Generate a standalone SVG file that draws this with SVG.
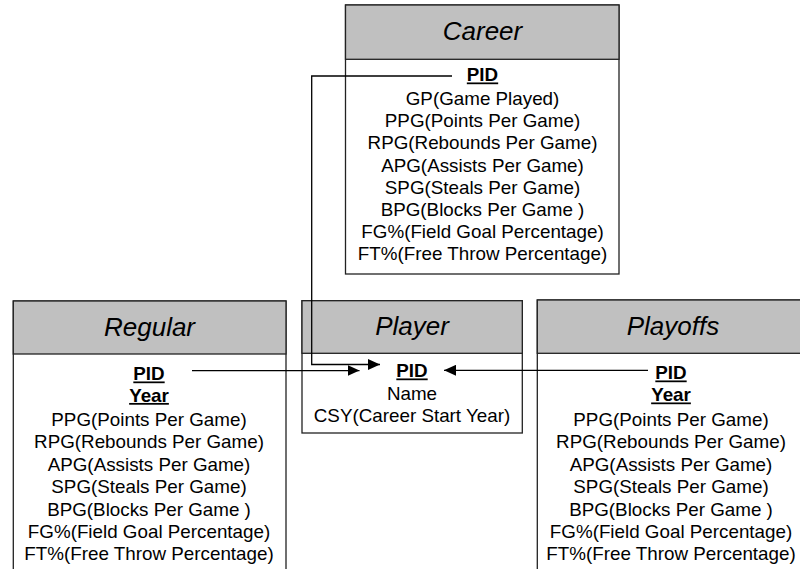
<svg xmlns="http://www.w3.org/2000/svg" width="800" height="569" viewBox="0 0 800 569">
<style>
.box{fill:#fff;stroke:#222;stroke-width:1.3}
.hdr{fill:#c0c0c0;stroke:#222;stroke-width:1.3}
.ttl{font-family:"Liberation Sans",Arial,sans-serif;font-size:26px;font-style:italic;text-anchor:middle;fill:#000}
.t{font-family:"Liberation Sans",Arial,sans-serif;font-size:17.5px;text-anchor:middle;fill:#000}
.k{font-weight:bold;text-decoration:underline}
.c{fill:none;stroke:#000;stroke-width:1.3}
</style>
<defs>
<marker id="arr" markerWidth="12" markerHeight="11" refX="12" refY="5.5" orient="auto" markerUnits="userSpaceOnUse"><path d="M0,0 L12,5.5 L0,11 z" fill="#000"/></marker>
</defs>
<rect width="800" height="569" fill="#fff"/>
<g id="career">
<rect class="box" x="345.5" y="5" width="273.5" height="269"/>
<rect class="hdr" x="345.5" y="5" width="273.5" height="54.3"/>
<text class="ttl" x="482.5" y="39.5">Career</text>
<g transform="translate(482.5 0) scale(1.075 1)">
<text class="t k" x="0" y="81.5">PID</text>
<text class="t" x="0" y="105">GP(Game Played)</text>
<text class="t" x="0" y="127.2">PPG(Points Per Game)</text>
<text class="t" x="0" y="149.4">RPG(Rebounds Per Game)</text>
<text class="t" x="0" y="171.6">APG(Assists Per Game)</text>
<text class="t" x="0" y="193.8">SPG(Steals Per Game)</text>
<text class="t" x="0" y="216">BPG(Blocks Per Game )</text>
<text class="t" x="0" y="238.2">FG%(Field Goal Percentage)</text>
<text class="t" x="0" y="260.4">FT%(Free Throw Percentage)</text>
</g>
</g>
<g id="regular">
<rect class="box" x="13.3" y="301" width="272.7" height="280"/>
<rect class="hdr" x="13.3" y="301" width="272.7" height="53"/>
<text class="ttl" x="149.5" y="336">Regular</text>
<g transform="translate(149 0) scale(1.075 1)">
<text class="t k" x="0" y="380.5">PID</text>
<text class="t k" x="0" y="402">Year</text>
<text class="t" x="0" y="426">PPG(Points Per Game)</text>
<text class="t" x="0" y="448.4">RPG(Rebounds Per Game)</text>
<text class="t" x="0" y="470.8">APG(Assists Per Game)</text>
<text class="t" x="0" y="493.2">SPG(Steals Per Game)</text>
<text class="t" x="0" y="515.6">BPG(Blocks Per Game )</text>
<text class="t" x="0" y="538">FG%(Field Goal Percentage)</text>
<text class="t" x="0" y="560.4">FT%(Free Throw Percentage)</text>
</g>
</g>
<g id="player">
<rect class="box" x="302" y="300.7" width="220.3" height="132.3"/>
<rect class="hdr" x="302" y="300.7" width="220.3" height="52.6"/>
<text class="ttl" x="412" y="335">Player</text>
<g transform="translate(412 0) scale(1.075 1)">
<text class="t k" x="0" y="377.5">PID</text>
<text class="t" x="0" y="400">Name</text>
<text class="t" x="0" y="422.5">CSY(Career Start Year)</text>
</g>
</g>
<g id="playoffs">
<rect class="box" x="537.3" y="300" width="273" height="280"/>
<rect class="hdr" x="537.3" y="300" width="273" height="53.3"/>
<text class="ttl" x="673" y="335">Playoffs</text>
<g transform="translate(671 0) scale(1.075 1)">
<text class="t k" x="0" y="379.5">PID</text>
<text class="t k" x="0" y="401.5">Year</text>
<text class="t" x="0" y="426">PPG(Points Per Game)</text>
<text class="t" x="0" y="448.4">RPG(Rebounds Per Game)</text>
<text class="t" x="0" y="470.8">APG(Assists Per Game)</text>
<text class="t" x="0" y="493.2">SPG(Steals Per Game)</text>
<text class="t" x="0" y="515.6">BPG(Blocks Per Game )</text>
<text class="t" x="0" y="538">FG%(Field Goal Percentage)</text>
<text class="t" x="0" y="560.4">FT%(Free Throw Percentage)</text>
</g>
</g>
<g id="connectors">
<path class="c" d="M452,76 H311.7 V364.5 H380" marker-end="url(#arr)"/>
<path class="c" d="M192,370.6 H359.5" marker-end="url(#arr)"/>
<path class="c" d="M648,370.3 H444" marker-end="url(#arr)"/>
</g>
</svg>
